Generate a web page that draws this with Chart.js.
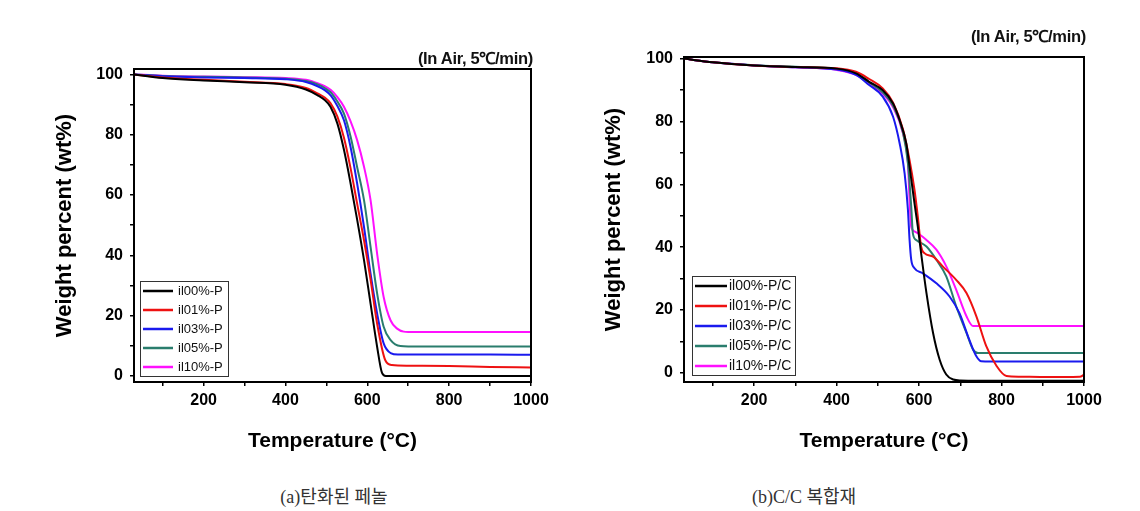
<!DOCTYPE html>
<html>
<head>
<meta charset="utf-8">
<script src="https://cdn.jsdelivr.net/npm/chart.js@4"></script>
<style>
  body { margin: 0; background: #fff; width: 1140px; height: 511px; position: relative; overflow: hidden; }
  .box { position: absolute; top: 0; height: 460px; }
  .note { position: absolute; font: bold 16.5px "Liberation Sans", Arial, sans-serif; color: #111; white-space: nowrap; letter-spacing: -0.3px; }
  .cap { position: absolute; top: 482px; font: 18px "Liberation Serif", "Noto Sans CJK KR", serif; color: #333;
         transform: translateX(-50%); white-space: nowrap; }
</style>
</head>
<body>
<div class="box" style="left:0;width:560px"><canvas id="chartA" width="560" height="460"></canvas></div>
<div class="box" style="left:560px;width:580px"><canvas id="chartB" width="580" height="460"></canvas></div>
<div class="note" style="right:607px;top:46px">(In Air, 5℃/min)</div>
<div class="note" style="right:54px;top:24px">(In Air, 5℃/min)</div>
<div class="cap" style="left:334px">(a)탄화된 페놀</div>
<div class="cap" style="left:804px">(b)C/C 복합재</div>
<script>
// ── 색상 ─────────────────────────────
const COLORS = ["#000000", "#ee1111", "#1a1aee", "#2a7d6d", "#ff10ff"];
const FONT = "'Liberation Sans', Arial, sans-serif";

// ── (a) 탄화된 페놀 ──────────────────
const labelsA = ["il00%-P", "il01%-P", "il03%-P", "il05%-P", "il10%-P"];

const tA00 = [30, 100, 200, 300, 400, 450, 480, 496, 510, 527, 543, 559, 575, 592, 608, 624, 636, 645, 700, 800, 900, 1000];
const wA00 = [100, 98.8, 98.0, 97.4, 96.6, 95.0, 93.0, 91.5, 89.3, 83.7, 75, 64, 52, 38.4, 24, 9.7, 1, 0, 0, 0, 0, 0];

const tA01 = [30, 100, 200, 300, 400, 450, 480, 496, 510, 527, 543, 559, 575, 592, 608, 624, 644, 660, 700, 800, 900, 1000];
const wA01 = [100, 99, 98.2, 97.6, 96.8, 95.5, 93.6, 92.3, 90.5, 86, 79, 69, 57.3, 45, 32, 17.4, 5.2, 3.6, 3.4, 3.3, 3.0, 2.8];

const tA03 = [30, 100, 200, 300, 400, 450, 480, 496, 511, 527, 543, 559, 575, 592, 608, 624, 640, 657, 675, 700, 800, 900, 1000];
const wA03 = [100, 99.4, 99.0, 98.8, 98.4, 97.5, 96, 94.8, 93, 89.5, 84.8, 76, 64, 49.4, 33.9, 20.7, 10.8, 7.6, 7.1, 7.1, 7.1, 7.1, 7.0];

const tA05 = [30, 100, 200, 300, 400, 450, 480, 496, 511, 527, 543, 559, 575, 592, 608, 624, 640, 657, 681, 700, 800, 900, 1000];
const wA05 = [100, 99.5, 99.2, 99.0, 98.6, 97.8, 96.6, 95.5, 94, 91, 87, 79.5, 69.4, 58.3, 42.8, 27.4, 16.3, 11.9, 9.9, 9.8, 9.8, 9.8, 9.8];

const tA10 = [30, 100, 200, 300, 400, 450, 480, 496, 511, 527, 543, 559, 575, 592, 608, 624, 640, 657, 673, 689, 700, 800, 900, 1000];
const wA10 = [100, 99.6, 99.3, 99.1, 98.8, 98.2, 97, 96.1, 94.8, 92.5, 89.3, 84.5, 78.3, 69.4, 58.3, 40.6, 26.2, 18.4, 15.7, 14.7, 14.6, 14.6, 14.6, 14.6];

// ── (b) C/C 복합재 ───────────────────
const labelsB = ["il00%-P/C", "il01%-P/C", "il03%-P/C", "il05%-P/C", "il10%-P/C"];

const tB00 = [30, 100, 200, 300, 400, 447, 479, 512, 537, 553, 569, 577, 589, 597, 605, 618, 634, 650, 666, 683, 700, 800, 900, 1000];
const wB00 = [100, 98.8, 97.8, 97.3, 96.8, 95.3, 92.6, 89.9, 85.7, 80.4, 73, 65.6, 53.9, 46.5, 38.1, 25.4, 12.7, 4.2, -0.5, -2.1, -2.4, -2.5, -2.5, -2.5];

const tB01 = [30, 100, 200, 300, 400, 447, 479, 512, 537, 561, 577, 589, 597, 605, 613, 634, 658, 690, 715, 739, 763, 788, 812, 844, 900, 990, 1000];
const wB01 = [100, 98.8, 97.8, 97.3, 96.9, 95.8, 93.5, 90.5, 86, 77.5, 67.7, 58.2, 49.7, 40.2, 38.1, 37, 33.8, 29.6, 25.4, 18, 8.5, 2.2, -1, -1.2, -1.3, -1.2, -0.6];

const tB03 = [30, 100, 200, 300, 400, 447, 479, 512, 537, 553, 565, 573, 577, 581, 589, 609, 642, 674, 698, 722, 739, 751, 800, 900, 1000];
const wB03 = [100, 98.8, 97.8, 97.2, 96.5, 94.8, 91.6, 87.9, 81.5, 73, 63.5, 51.9, 42.3, 36, 33.3, 31.7, 28.5, 24.3, 19, 10.5, 5.3, 3.7, 3.6, 3.6, 3.6];

const tB05 = [30, 100, 200, 300, 400, 447, 479, 512, 537, 561, 573, 581, 585, 593, 618, 642, 666, 690, 715, 731, 743, 800, 900, 1000];
const wB05 = [100, 98.8, 97.9, 97.4, 96.7, 95.2, 92.4, 89.2, 85, 76.5, 66.7, 53, 44.4, 42.3, 40.2, 36, 30.7, 21.2, 12.7, 7.4, 6.3, 6.3, 6.3, 6.3];

const tB10 = [30, 100, 200, 300, 400, 447, 479, 512, 537, 561, 573, 577, 581, 589, 618, 642, 666, 690, 715, 731, 800, 900, 1000];
const wB10 = [100, 98.8, 97.8, 97.2, 96.4, 94.8, 92.0, 88.8, 84.5, 76.2, 66.7, 55, 46.5, 45, 42.3, 39.2, 33.9, 26.5, 18, 14.9, 14.9, 14.9, 14.9];

// ── 공통 ─────────────────────────────
const pts = (t, w) => t.map((x, i) => ({ x, y: w[i] }));

// 테두리 + 내부 범례
const framePlugin = {
  id: "frame",
  afterDatasetsDraw(chart, args, opts) {
    const { ctx, chartArea: a } = chart;
    ctx.save();
    ctx.strokeStyle = "#000";
    ctx.lineWidth = 2;
    ctx.strokeRect(a.left, a.top, a.right - a.left, a.bottom - a.top);

    const L = opts.legend;
    const bx = a.left + L.x, by = a.bottom - L.bottom - L.h;
    ctx.fillStyle = "#fff";
    ctx.fillRect(bx, by, L.w, L.h);
    ctx.strokeStyle = "#333";
    ctx.lineWidth = 1;
    ctx.strokeRect(bx + 0.5, by + 0.5, L.w, L.h);
    ctx.font = `${L.font}px ${FONT}`;
    ctx.textBaseline = "middle";
    chart.data.datasets.forEach((ds, i) => {
      const y = by + L.first + i * L.row;
      ctx.strokeStyle = ds.borderColor;
      ctx.lineWidth = 2.5;
      ctx.beginPath();
      ctx.moveTo(bx + 3, y);
      ctx.lineTo(bx + 3 + L.line, y);
      ctx.stroke();
      ctx.fillStyle = "#111";
      ctx.fillText(ds.label, bx + 3 + L.line + L.gap, y);
    });
    ctx.restore();
  },
};

function drawTga(canvasId, labels, series, cfg) {
  const ctx = document.getElementById(canvasId).getContext("2d");
  return new Chart(ctx, {
    type: "line",
    data: {
      datasets: series.map((s, i) => ({
        label: labels[i],
        data: pts(s[0], s[1]),
        borderColor: COLORS[i],
        borderWidth: 2,
        pointRadius: 0,
        cubicInterpolationMode: "monotone",
        fill: false,
      })),
    },
    plugins: [framePlugin],
    options: {
      responsive: false,
      animation: false,
      devicePixelRatio: 1,
      events: [],
      layout: { padding: { top: cfg.top, right: cfg.right, left: 0, bottom: 0 } },
      plugins: {
        legend: { display: false },
        tooltip: { enabled: false },
        frame: { legend: cfg.legend },
      },
      scales: {
        x: {
          type: "linear",
          min: 30,
          max: 1000,
          afterFit: (s) => { s.height = cfg.xh; },
          border: { display: false },
          grid: { drawOnChartArea: false, tickLength: 4, color: "#000", lineWidth: 1.5 },
          ticks: {
            stepSize: 100, includeBounds: false, autoSkip: false, maxRotation: 0,
            padding: 5, color: "#000",
            font: { family: FONT, size: 16, weight: "bold" },
            callback: (v) => (v % 200 === 0 ? v : ""),
          },
          title: {
            display: true, text: "Temperature (°C)", color: "#000",
            font: { family: FONT, size: 21, weight: "bold" },
            padding: { bottom: 6 },
          },
        },
        y: {
          min: cfg.ymin,
          max: cfg.ymax,
          afterFit: (s) => { s.width = cfg.yw; },
          border: { display: false },
          grid: { drawOnChartArea: false, tickLength: 4, color: "#000", lineWidth: 1.5 },
          ticks: {
            stepSize: 10, includeBounds: false, padding: 7, color: "#000",
            font: { family: FONT, size: 16, weight: "bold" },
            callback: (v) => (v % 20 === 0 ? v : ""),
          },
          title: {
            display: true, text: "Weight percent (wt%)", color: "#000",
            font: { family: FONT, size: 22, weight: "bold" },
            padding: { top: cfg.ytitle },
          },
        },
      },
    },
  });
}

drawTga("chartA", labelsA,
  [[tA00, wA00], [tA01, wA01], [tA03, wA03], [tA05, wA05], [tA10, wA10]],
  { top: 69, right: 29, xh: 78, yw: 134, ymin: -2, ymax: 101.8, ytitle: 52,
    legend: { x: 6, bottom: 6, w: 88, h: 95, first: 10, row: 19, line: 30, gap: 5, font: 13 } });

drawTga("chartB", labelsB,
  [[tB00, wB00], [tB01, wB01], [tB03, wB03], [tB05, wB05], [tB10, wB10]],
  { top: 57, right: 56, xh: 78, yw: 124, ymin: -2.9, ymax: 100.5, ytitle: 41,
    legend: { x: 8, bottom: 7, w: 103, h: 99, first: 10, row: 20, line: 32, gap: 2, font: 14 } });
</script>
</body>
</html>
